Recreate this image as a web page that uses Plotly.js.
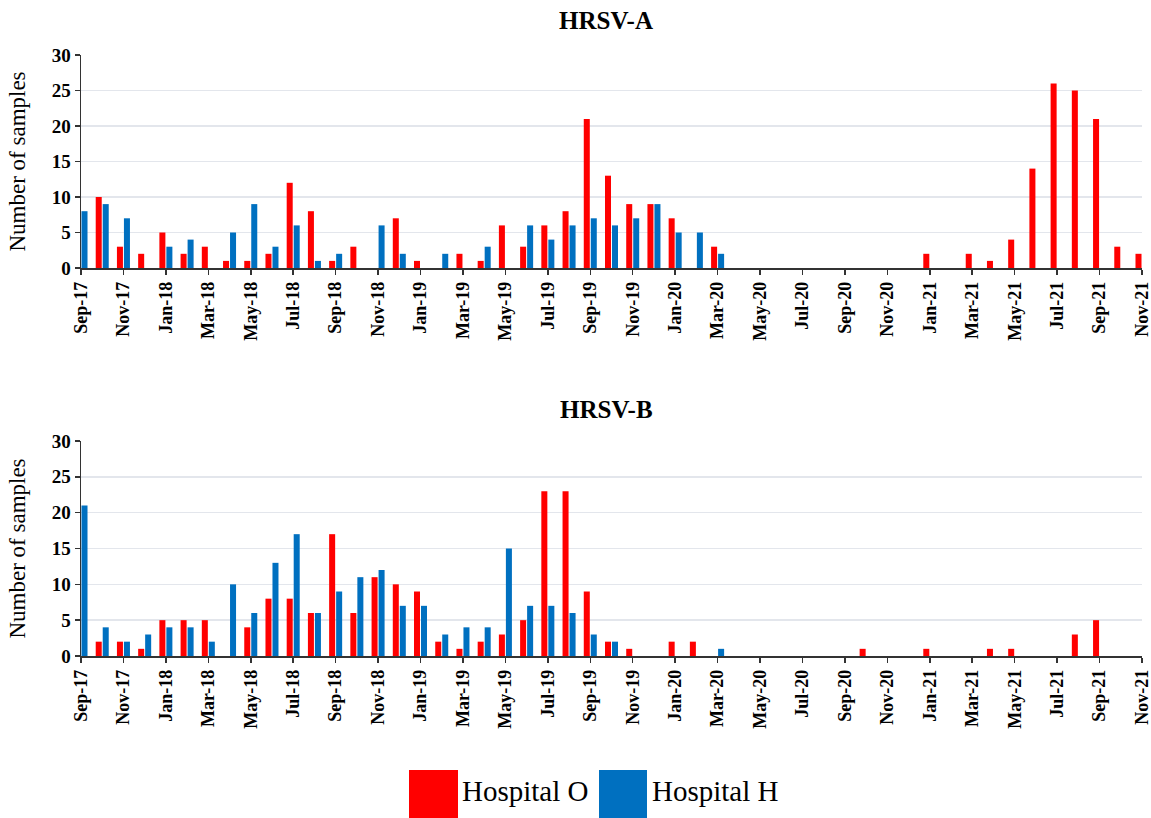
<!DOCTYPE html>
<html>
<head>
<meta charset="utf-8">
<script src="https://cdn.plot.ly/plotly-3.0.1.min.js"></script>
<style>
  html, body { margin: 0; padding: 0; background: #ffffff; }
  #chart { width: 1151px; height: 818px; }
</style>
</head>
<body>
<div id="chart"></div>
<script>
// ---- Data ----
const months = [
  "Sep-17","Oct-17","Nov-17","Dec-17","Jan-18","Feb-18","Mar-18","Apr-18","May-18","Jun-18",
  "Jul-18","Aug-18","Sep-18","Oct-18","Nov-18","Dec-18","Jan-19","Feb-19","Mar-19","Apr-19",
  "May-19","Jun-19","Jul-19","Aug-19","Sep-19","Oct-19","Nov-19","Dec-19","Jan-20","Feb-20",
  "Mar-20","Apr-20","May-20","Jun-20","Jul-20","Aug-20","Sep-20","Oct-20","Nov-20","Dec-20",
  "Jan-21","Feb-21","Mar-21","Apr-21","May-21","Jun-21","Jul-21","Aug-21","Sep-21","Oct-21",
  "Nov-21"
];
const tickLabels = [
  "Sep-17","Nov-17","Jan-18","Mar-18","May-18","Jul-18","Sep-18","Nov-18","Jan-19","Mar-19",
  "May-19","Jul-19","Sep-19","Nov-19","Jan-20","Mar-20","May-20","Jul-20","Sep-20","Nov-20",
  "Jan-21","Mar-21","May-21","Jul-21","Sep-21","Nov-21"
];

// HRSV-A
const hrsvA_hospitalO = [0,10,3,2,5,2,3,1,1,2, 12,8,1,3,0,7,1,0,2,1, 6,3,6,8,21,13,9,9,7,0, 3,0,0,0,0,0,0,0,0,0, 2,0,2,1,4,14,26,25,21,3, 2];
const hrsvA_hospitalH = [8,9,7,0,3,4,0,5,9,3, 6,1,2,0,6,2,0,2,0,3, 0,6,4,6,7,6,7,9,5,5, 2,0,0,0,0,0,0,0,0,0, 0,0,0,0,0,0,0,0,0,0, 0];

// HRSV-B
const hrsvB_hospitalO = [0,2,2,1,5,5,5,0,4,8, 8,6,17,6,11,10,9,2,1,2, 3,5,23,23,9,2,1,0,2,2, 0,0,0,0,0,0,0,1,0,0, 1,0,0,1,1,0,0,3,5,0, 0];
const hrsvB_hospitalH = [21,4,2,3,4,4,2,10,6,13, 17,6,9,11,12,7,7,3,4,4, 15,7,7,6,3,2,0,0,0,0, 1,0,0,0,0,0,0,0,0,0, 0,0,0,0,0,0,0,0,0,0, 0];

const seriesNames = ["Hospital O", "Hospital H"];
const seriesColors = ["#FF0000", "#0070C0"];
const panelTitles = ["HRSV-A", "HRSV-B"];

// ---- Layout helpers ----
const W = 1151, H = 818;
const M = { l: 81, r: 9, t: 0, b: 0 };
const px2x = p => (p - M.l) / (W - M.l - M.r);
const px2y = p => 1 - (p - M.t) / (H - M.t - M.b);

const serif = "Liberation Serif";

function bar(x, y, i, xa, ya) {
  return {
    type: "bar", x: x, y: y, name: seriesNames[i],
    xaxis: xa, yaxis: ya,
    marker: { color: seriesColors[i], line: { width: 0 } },
    showlegend: false, hoverinfo: "x+y+name"
  };
}

const traces = [
  bar(months, hrsvA_hospitalO, 0, "x", "y"),
  bar(months, hrsvA_hospitalH, 1, "x", "y"),
  bar(months, hrsvB_hospitalO, 0, "x2", "y2"),
  bar(months, hrsvB_hospitalH, 1, "x2", "y2")
];

function xAxis(anchor) {
  return {
    type: "category", anchor: anchor,
    categoryorder: "array", categoryarray: months,
    range: [0, months.length - 1],
    tickmode: "array", tickvals: tickLabels, ticktext: tickLabels,
    tickangle: -90,
    ticks: "outside", ticklen: 5, tickwidth: 1.5, tickcolor: "#333333",
    showline: true, linecolor: "#333333", linewidth: 1.5,
    showgrid: false, zeroline: false,
    tickfont: { family: serif, size: 18, color: "#000000", weight: "bold" },
    domain: [0, 1], fixedrange: true
  };
}
function yAxis(anchor, domain) {
  return {
    anchor: anchor, domain: domain,
    range: [0, 30], dtick: 5, tick0: 0,
    ticks: "outside", ticklen: 5, tickwidth: 1.5, tickcolor: "#333333",
    showline: true, linecolor: "#333333", linewidth: 1.5,
    showgrid: true, gridcolor: "#E3E6EC", gridwidth: 1.5,
    zeroline: false,
    tickfont: { family: serif, size: 19, color: "#000000", weight: "bold" },
    title: { text: "Number of samples", font: { family: serif, size: 23, color: "#000000" }, standoff: 19 },
    automargin: false, fixedrange: true
  };
}

const layout = {
  width: W, height: H,
  margin: M,
  font: { family: serif, color: "#000000" },
  paper_bgcolor: "#ffffff", plot_bgcolor: "#ffffff",
  barmode: "group", bargap: 0.34, bargroupgap: 0.14,
  showlegend: false,
  xaxis: xAxis("y"),
  yaxis: yAxis("x", [px2y(268), px2y(55)]),
  xaxis2: xAxis("y2"),
  yaxis2: yAxis("x2", [px2y(656), px2y(441)]),
  annotations: [
    { text: panelTitles[0], xref: "paper", yref: "paper", x: px2x(606), y: px2y(20),
      xanchor: "center", yanchor: "middle", showarrow: false,
      font: { family: serif, size: 25, color: "#000000", weight: "bold" } },
    { text: panelTitles[1], xref: "paper", yref: "paper", x: px2x(606), y: px2y(409),
      xanchor: "center", yanchor: "middle", showarrow: false,
      font: { family: serif, size: 25, color: "#000000", weight: "bold" } },
    { text: seriesNames[0], xref: "paper", yref: "paper", x: px2x(460), y: px2y(791),
      xanchor: "left", yanchor: "middle", showarrow: false,
      font: { family: serif, size: 29, color: "#000000" } },
    { text: seriesNames[1], xref: "paper", yref: "paper", x: px2x(650), y: px2y(791),
      xanchor: "left", yanchor: "middle", showarrow: false,
      font: { family: serif, size: 29, color: "#000000" } }
  ],
  shapes: [
    { type: "rect", xref: "paper", yref: "paper", x0: px2x(409), x1: px2x(458), y0: px2y(818), y1: px2y(770),
      fillcolor: seriesColors[0], line: { width: 0 } },
    { type: "rect", xref: "paper", yref: "paper", x0: px2x(599), x1: px2x(647), y0: px2y(818), y1: px2y(770),
      fillcolor: seriesColors[1], line: { width: 0 } }
  ]
};

Plotly.newPlot("chart", traces, layout, { displayModeBar: false, staticPlot: true });
</script>
</body>
</html>
